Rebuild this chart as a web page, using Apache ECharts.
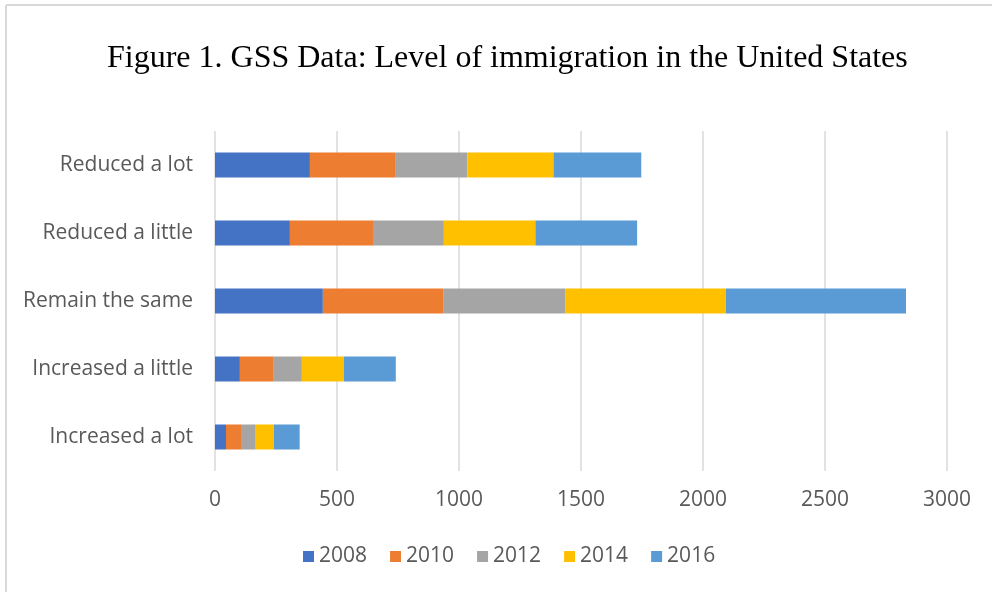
<!DOCTYPE html>
<html>
<head>
<meta charset="utf-8">
<script src="https://cdn.jsdelivr.net/npm/echarts@6/dist/echarts.min.js"></script>
<style>
html,body{margin:0;padding:0;background:#fff;}
#chart{width:992px;height:592px;}
</style>
</head>
<body>
<div id="chart"></div>
<script>
const categories = ["Increased a lot", "Increased a little", "Remain the same", "Reduced a little", "Reduced a lot"];
const years = ["2008", "2010", "2012", "2014", "2016"];
const v2008 = [45, 102, 442, 307, 389];
const v2010 = [65, 139, 493, 344, 352];
const v2012 = [57, 115, 502, 287, 293];
const v2014 = [74, 172, 657, 375, 353];
const v2016 = [106, 213, 738, 417, 360];
const xTicks = [0, 500, 1000, 1500, 2000, 2500, 3000];

const seriesValues = [v2008, v2010, v2012, v2014, v2016];
const colors = ["#4472C4", "#ED7D31", "#A5A5A5", "#FFC000", "#5B9BD5"];
const labelFont = "'Open Sans', sans-serif";

const chart = echarts.init(document.getElementById('chart'), null, {renderer: 'canvas'});
chart.setOption({
  animation: false,
  backgroundColor: '#ffffff',
  title: {
    text: 'Figure 1. GSS Data: Level of immigration in the United States',
    left: 102,
    top: 38,
    textStyle: {fontFamily: "'Liberation Serif', serif", fontSize: 32, fontWeight: 'normal', color: '#000000'}
  },
  graphic: [
    {type: 'line', shape: {x1: 6, y1: 5, x2: 992, y2: 5}, style: {stroke: '#d9d9d9', lineWidth: 2}},
    {type: 'line', shape: {x1: 6, y1: 5, x2: 6, y2: 592}, style: {stroke: '#d9d9d9', lineWidth: 2}}
  ],
  legend: {
    data: years,
    top: 541,
    left: 298,
    icon: 'rect',
    itemWidth: 11,
    itemHeight: 11,
    itemGap: 23,
    textStyle: {fontFamily: labelFont, fontSize: 21, color: '#595959'}
  },
  grid: {left: 215, right: 45, top: 131, height: 340, containLabel: false},
  xAxis: {
    type: 'value',
    min: xTicks[0],
    max: xTicks[xTicks.length - 1],
    interval: 500,
    axisLine: {show: false},
    axisTick: {show: false},
    splitLine: {show: true, lineStyle: {color: '#d9d9d9', width: 1.5}},
    axisLabel: {fontFamily: labelFont, fontSize: 21, color: '#595959', margin: 19, formatter: v => String(v)}
  },
  yAxis: {
    type: 'category',
    data: categories,
    axisLine: {show: false},
    axisTick: {show: false},
    axisLabel: {fontFamily: labelFont, fontSize: 21, color: '#595959', margin: 22}
  },
  series: years.map((y, i) => ({
    name: y,
    type: 'bar',
    stack: 'total',
    barWidth: 25,
    itemStyle: {color: colors[i]},
    data: seriesValues[i]
  }))
});
</script>
</body>
</html>
